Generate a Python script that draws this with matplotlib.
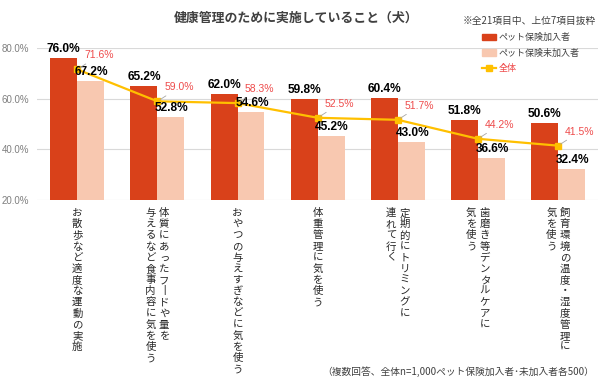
import numpy as np
import matplotlib
matplotlib.use('Agg')
import matplotlib.pyplot as plt
from matplotlib.patches import Patch
from matplotlib.lines import Line2D

plt.rcParams['font.family'] = ['Liberation Sans', 'Noto Sans CJK JP', 'DejaVu Sans']

# data
categories = [
    'お散歩など適度な運動の実施',
    '体質にあったフードや量を\n与えるなど食事内容に気を使う',
    'おやつの与えすぎなどに気を使う',
    '体重管理に気を使う',
    '定期的にトリミングに\n連れて行く',
    '歯磨き等デンタルケアに\n気を使う',
    '飼育環境の温度・湿度管理に\n気を使う',
]
insured = [76.0, 65.2, 62.0, 59.8, 60.4, 51.8, 50.6]
uninsured = [67.2, 52.8, 54.6, 45.2, 43.0, 36.6, 32.4]
total = [71.6, 59.0, 58.3, 52.5, 51.7, 44.2, 41.5]
yticks = [20, 40, 60, 80]
series_names = ['ペット保険加入者', 'ペット保険未加入者', '全体']

title = '健康管理のために実施していること（犬）'
note = '※全21項目中、上位7項目抜粋'
footnote = '（複数回答、全体n=1,000ペット保険加入者･未加入者各500）'

c_dark = '#D9411A'
c_light = '#F8C8B0'
c_line = '#FFC000'
c_red = '#EE4B4B'
jp = 'Noto Sans CJK JP'

fig = plt.figure(figsize=(6, 3.79), dpi=100)
ax = fig.add_axes([0.062, 0.472, 0.935, 0.401])

x = np.arange(len(categories))
w = 0.336
ax.bar(x - w / 2, insured, w, color=c_dark, zorder=2)
ax.bar(x + w / 2, uninsured, w, color=c_light, zorder=2)
ax.plot(x, total, color=c_line, lw=1.6, marker='s', ms=4.5, zorder=4)

ax.set_xlim(-0.5, len(categories) - 0.5)
ax.set_ylim(20, 80)
ax.set_yticks(yticks)
ax.set_yticklabels([f'{v:.1f}%' for v in yticks])
ax.set_xticks([])
ax.tick_params(axis='y', length=0, pad=5.5, labelsize=7, labelcolor='#7F7F7F')
for s in ax.spines.values():
    s.set_visible(False)
ax.grid(axis='y', color='#D9D9D9', lw=0.8, zorder=0)
ax.set_axisbelow(True)

# value labels
for i in range(len(categories)):
    ax.annotate(f'{insured[i]:.1f}%', (x[i] - w / 2, insured[i]), xytext=(0, 3),
                textcoords='offset pixels', ha='center', va='bottom',
                fontsize=8.6, fontweight='bold', color='black', zorder=5)
    ax.annotate(f'{uninsured[i]:.1f}%', (x[i] + w / 2, uninsured[i]), xytext=(1, 3),
                textcoords='offset pixels', ha='center', va='bottom',
                fontsize=8.6, fontweight='bold', color='black', zorder=5)
    ax.annotate(f'{total[i]:.1f}%', (x[i], total[i]), xytext=(7, 14),
                textcoords='offset pixels', ha='left', va='center',
                fontsize=7.5, color=c_red, zorder=5,
                arrowprops=dict(arrowstyle='-', color='#A6A6A6', lw=0.6,
                                shrinkA=1, shrinkB=2))

# vertical (tategaki) category labels, columns right to left
pitch = 11.15
colgap = 13.5
for i, lab in enumerate(categories):
    cols = lab.split('\n')
    n = len(cols)
    for j, col in enumerate(cols):
        dx = ((n - 1) / 2 - j) * colgap
        for k, ch in enumerate(col):
            if ch == 'ー':
                ch = '丨'
            ax.annotate(ch, (x[i], 20), xytext=(dx, -8 - k * pitch),
                        textcoords='offset pixels', ha='center', va='top',
                        fontsize=7.5, family=jp, color='#262626',
                        annotation_clip=False)

fig.text(0.493, 1 - 18 / 379, title, ha='center', va='center', fontsize=9.3,
         fontweight='bold', color='#404040', family=jp)
fig.text(0.993, 1 - 21 / 379, note, ha='right', va='center', fontsize=7,
         color='#404040', family=jp)
fig.text(0.99, 1 - 372 / 379, footnote, ha='right', va='center', fontsize=7,
         color='#404040', family=jp)

handles = [Patch(color=c_dark), Patch(color=c_light),
           Line2D([0], [0], color=c_line, lw=1.6, marker='s', ms=4.5)]
leg = fig.legend(handles, series_names, loc='upper left',
                 bbox_to_anchor=(0.803, 1 - 33 / 379), frameon=False,
                 prop={'family': jp, 'size': 6.5}, handlelength=1.6,
                 handletextpad=0.3, labelspacing=0.7, borderpad=0,
                 borderaxespad=0)
for t, c in zip(leg.get_texts(), ['#404040', '#404040', c_red]):
    t.set_color(c)

fig.savefig('out.png', dpi=100)
